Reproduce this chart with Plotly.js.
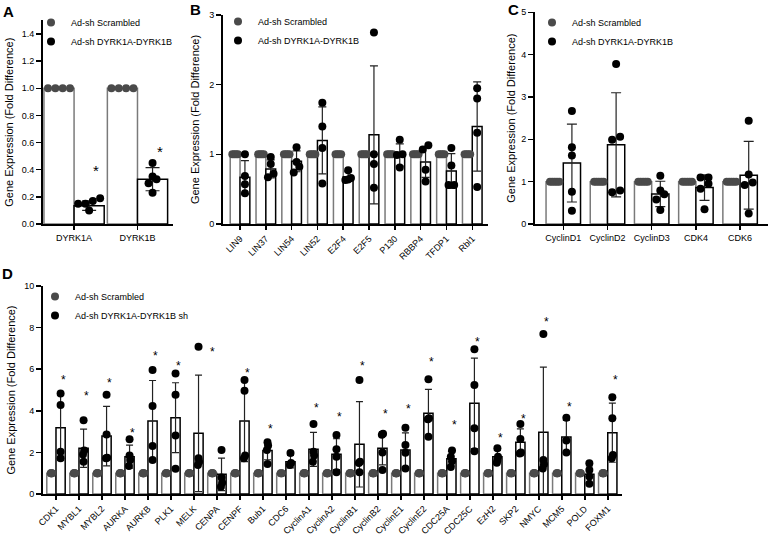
<!DOCTYPE html>
<html><head><meta charset="utf-8">
<script src="https://cdn.plot.ly/plotly-3.0.1.min.js"></script>
<style>html,body{margin:0;padding:0;background:#fff}#chart{width:768px;height:538px}</style>
</head><body><div id="chart"></div>
<script>
// ---------------- DATA ----------------
const legScr = 'Ad-sh Scrambled';
const legSh = 'Ad-sh DYRK1A-DYRK1B';
const legShD = 'Ad-sh DYRK1A-DYRK1B sh';

// Panel A
const aCats = ['DYRK1A', 'DYRK1B'];
const aScr = [[1, 1, 1, 1], [1, 1, 1, 1]];
const aSh = [[0.17, 0.19, 0.15, 0.15, 0.10], [0.35, 0.45, 0.30, 0.23, 0.33]];
const aShMean = [0.135, 0.33];
const aShSD = [0.035, 0.085];
const aStar = [0.42, 0.56];

// Panel B
const bCats = ['LIN9', 'LIN37', 'LIN54', 'LIN52', 'E2F4', 'E2F5', 'P130', 'RBBP4', 'TFDP1', 'Rbl1'];
const bScr = [[1,1,1,1],[1,1,1,1],[1,1,1,1],[1,1,1,1],[1,1,1,1],[1,1,1,1],[1,1,1,1],[1,1,1,1],[1,1,1,1],[1,1,1,1]];
const bSh = [
  [1.00, 0.69, 0.57, 0.44],
  [0.96, 0.86, 0.72, 0.67],
  [1.10, 0.89, 0.82, 0.74],
  [1.74, 1.40, 1.09, 0.58],
  [0.77, 0.66, 0.64, 0.63],
  [2.75, 1.00, 0.86, 0.52],
  [1.21, 1.00, 0.99, 0.81],
  [1.13, 1.07, 0.78, 0.61],
  [1.09, 0.84, 0.56, 0.56],
  [1.95, 1.80, 1.31, 0.53]
];
const bShMean = [0.67, 0.79, 0.90, 1.20, 0.68, 1.28, 0.99, 0.89, 0.76, 1.40];
const bShSD = [0.24, 0.13, 0.15, 0.48, 0.07, 0.99, 0.16, 0.22, 0.25, 0.64];
const bStar = [null, null, null, null, null, null, null, null, null, null];

// Panel C
const cCats = ['CyclinD1', 'CyclinD2', 'CyclinD3', 'CDK4', 'CDK6'];
const cScr = [[1,1,1,1,1],[1,1,1,1,1],[1,1,1,1,1],[1,1,1,1,1],[1,1,1,1,1]];
const cSh = [
  [2.67, 1.81, 1.62, 0.76, 0.31],
  [3.78, 2.06, 1.99, 0.79, 0.75],
  [1.14, 0.79, 0.70, 0.58, 0.33],
  [1.10, 1.10, 0.95, 0.83, 0.35],
  [2.44, 1.17, 0.98, 0.92, 0.25]
];
const cShMean = [1.44, 1.87, 0.71, 0.86, 1.15];
const cShSD = [0.92, 1.23, 0.30, 0.30, 0.80];
const cStar = [null, null, null, null, null];

// Panel D
const dCats = ['CDK1', 'MYBL1', 'MYBL2', 'AURKA', 'AURKB', 'PLK1', 'MELK', 'CENPA', 'CENPF', 'Bub1',
  'CDC6', 'CyclinA1', 'CyclinA2', 'CyclinB1', 'CyclinB2', 'CyclinE1', 'CyclinE2', 'CDC25A', 'CDC25C',
  'EzH2', 'SKP2', 'NMYC', 'MCM5', 'POLD', 'FOXM1'];
const dScr = [[1,1,1,1],[1,1,1,1],[1,1,1,1],[1,1,1,1],[1,1,1,1],[1,1,1,1],[1,1,1,1],[1,1,1,1],[1,1,1,1],[1,1,1,1],
  [1,1,1],[1,1,1,1],[1,1,1,1],[1,1,1,1],[1,1,1,1],[1,1,1,1],[1,1,1,1],[1,1,1,1],[1,1,1,1],
  [1,1,1,1],[1,1,1,1],[1,1,1,1],[1,1,1],[1,1,1,1],[1,1,1,1]];
const dSh = [
  [4.84, 4.28, 2.04, 1.72],
  [3.55, 2.10, 1.90, 1.55],
  [4.78, 2.87, 1.75, 1.72],
  [2.63, 1.85, 1.64, 1.35],
  [5.96, 4.23, 2.31, 1.64],
  [5.80, 4.78, 2.81, 1.22],
  [7.08, 1.72, 1.56, 1.40],
  [2.12, 0.80, 0.55, 0.35],
  [5.48, 4.97, 1.85, 1.72],
  [2.49, 2.33, 2.12, 1.45],
  [1.97, 1.50, 1.40],
  [3.37, 2.04, 1.85, 1.56],
  [2.84, 2.15, 1.80, 1.05],
  [5.48, 1.55, 1.50, 1.05],
  [2.90, 2.85, 2.00, 1.16],
  [3.19, 2.36, 1.99, 1.23],
  [5.52, 3.65, 3.60, 2.76],
  [2.10, 1.80, 1.58, 1.30],
  [6.96, 5.24, 3.16, 2.06],
  [2.20, 1.80, 1.64, 1.51],
  [3.37, 2.65, 2.00, 1.95],
  [7.69, 1.64, 1.43, 1.23],
  [3.67, 2.57, 2.00],
  [1.48, 1.16, 0.84, 0.50],
  [4.65, 3.64, 1.88, 1.72]
];
const dShMean = [3.19, 2.20, 2.79, 1.80, 3.51, 3.67, 2.92, 0.95, 3.51, 2.10, 1.56, 2.15, 1.92, 2.39, 2.20, 2.12, 3.88, 1.70, 4.36, 1.80, 2.49, 2.97, 2.74, 0.95, 2.95];
const dShSD = [1.57, 0.92, 1.43, 0.55, 1.95, 1.68, 2.80, 0.78, 1.95, 0.45, 0.30, 0.82, 0.74, 2.05, 0.80, 0.82, 1.15, 0.35, 2.17, 0.30, 0.64, 3.13, 0.80, 0.40, 1.42];
const dStar = [5.64, 4.87, 5.48, 3.10, 6.77, 6.31, 6.96, null, 5.96, 3.29, null, 4.28, 3.85, 6.31, 4.01, 4.23, 6.49, 3.48, 7.44, 2.84, 3.75, 8.41, 4.33, null, 5.64];

// ---------------- LAYOUT GEOMETRY / STYLE ----------------
const W = 768, H = 538;
const FONT = 'Liberation Sans, Arial, Helvetica, sans-serif';
const MS = 8;
const SCR_COLOR = '#4a4a4a';

const panels = [
  {id: '', letter: 'A', cats: aCats, scr: aScr, sh: aSh, mean: aShMean, sd: aShSD, star: aStar, legTxt: legSh,
   x0: 43, x1: 173, yTop: 20.4, yBot: 224, xr: [-0.49, 1.56], yr: [0, 1.5], dtick: 0.2, fmt: '.1f',
   barW: 0.475, spread: 11, cap: 7, angle: 0, leg: [31, 8], letterPos: [8, 11], starSize: 15, starDx: [7, 7],
   standoff: 6},
  {id: '2', letter: 'B', cats: bCats, scr: bScr, sh: bSh, mean: bShMean, sd: bShSD, star: bStar, legTxt: legSh,
   x0: 223, x1: 488, yTop: 15, yBot: 224, xr: [-0.66, 9.61], yr: [0, 3], dtick: 1, fmt: '',
   barW: 0.38, spread: 2.8, cap: 4, angle: -45, leg: [218, 7], letterPos: [195, 10], starSize: 12,
   standoff: 7},
  {id: '3', letter: 'C', cats: cCats, scr: cScr, sh: cSh, mean: cShMean, sd: cShSD, star: cStar, legTxt: legSh,
   x0: 535, x1: 767.5, yTop: 12.3, yBot: 224, xr: [-0.64, 4.62], yr: [0, 5], dtick: 1, fmt: '',
   barW: 0.39, spread: 4.7, cap: 5, angle: 0, leg: [532, 8], letterPos: [513, 10], starSize: 12,
   standoff: 3},
  {id: '4', letter: 'D', cats: dCats, scr: dScr, sh: dSh, mean: dShMean, sd: dShSD, star: dStar, legTxt: legShD,
   x0: 43, x1: 622, yTop: 286, yBot: 494.1, xr: [-0.565, 24.62], yr: [0, 10], dtick: 2, fmt: '',
   barW: 0.40, spread: 0.6, cap: 3.5, angle: -45, leg: [35, 282], letterPos: [7, 273], starSize: 12,
   starDx: null, standoff: 6}
];

// rows-based scatter placement (GraphPad-like)
function swarm(vals, center, maxOff, kx, ky) {
  const idx = vals.map((v, i) => i).sort((a, b) => vals[a] - vals[b]);
  const xs = new Array(vals.length);
  let i = 0;
  while (i < idx.length) {
    const row = [idx[i]];
    let j = i + 1;
    while (j < idx.length && (vals[idx[j]] - vals[idx[i]]) * ky < MS * 0.8) { row.push(idx[j]); j++; }
    const n = row.length;
    const step = n > 1 ? Math.min(MS, 2 * maxOff / (n - 1)) : 0;
    row.forEach((k, r) => { xs[k] = center + ((r - (n - 1) / 2) * step) / kx; });
    i = j;
  }
  return xs;
}

const traces = [];
const layout = {
  width: W, height: H, margin: {l: 0, r: 0, t: 0, b: 0},
  paper_bgcolor: '#fff', plot_bgcolor: 'rgba(0,0,0,0)',
  barmode: 'overlay', showlegend: true,
  font: {family: FONT, size: 9, color: '#000'},
  annotations: []
};

panels.forEach((p, pi) => {
  const xa = 'x' + p.id, ya = 'y' + p.id;
  const legKey = 'legend' + p.id;
  const kx = (p.x1 - p.x0) / (p.xr[1] - p.xr[0]);
  const ky = (p.yBot - p.yTop) / (p.yr[1] - p.yr[0]);
  const idx = p.cats.map((c, i) => i);
  const scrMean = p.scr.map(a => a.reduce((s, v) => s + v, 0) / a.length);

  traces.push({type: 'bar', xaxis: xa, yaxis: ya, x: idx.map(i => i - p.barW / 2), y: scrMean,
    width: p.barW, marker: {color: '#fff', line: {color: '#7a7a7a', width: 1.5}},
    showlegend: false, hoverinfo: 'skip'});
  traces.push({type: 'bar', xaxis: xa, yaxis: ya, x: idx.map(i => i + p.barW / 2), y: p.mean,
    width: p.barW, marker: {color: '#fff', line: {color: '#000', width: 1.5}},
    error_y: {type: 'data', array: p.sd, visible: true, color: '#222', thickness: 1.2, width: p.cap},
    showlegend: false, hoverinfo: 'skip'});

  const maxOff = p.spread;
  const sx = [], sy = [], hx = [], hy = [];
  idx.forEach(i => {
    const xs1 = swarm(p.scr[i], i - p.barW / 2, maxOff, kx, ky);
    p.scr[i].forEach((v, k) => { sx.push(xs1[k]); sy.push(v); });
    const xs2 = swarm(p.sh[i], i + p.barW / 2, maxOff, kx, ky);
    p.sh[i].forEach((v, k) => { hx.push(xs2[k]); hy.push(v); });
  });
  traces.push({type: 'scatter', mode: 'markers', xaxis: xa, yaxis: ya, x: sx, y: sy, name: legScr,
    legend: legKey, marker: {size: MS, color: SCR_COLOR}, hoverinfo: 'y'});
  traces.push({type: 'scatter', mode: 'markers', xaxis: xa, yaxis: ya, x: hx, y: hy, name: p.legTxt,
    legend: legKey, marker: {size: MS, color: '#000'}, hoverinfo: 'y'});

  const xdom = [p.x0 / W, p.x1 / W];
  const ydom = [(H - p.yBot) / H, (H - p.yTop) / H];
  const axBase = {showline: true, linecolor: '#000', linewidth: 2, ticks: 'outside', tickcolor: '#000',
    tickwidth: 1.5, showgrid: false, zeroline: false, fixedrange: true,
    tickfont: {family: FONT, size: 9, color: '#000'}};
  layout['xaxis' + p.id] = Object.assign({}, axBase, {
    domain: xdom, anchor: ya, range: p.xr, tickmode: 'array', tickvals: idx, ticktext: p.cats,
    ticklen: 4, tickangle: p.angle});
  layout['yaxis' + p.id] = Object.assign({}, axBase, {
    domain: ydom, anchor: xa, range: p.yr, dtick: p.dtick, tick0: 0, tickformat: p.fmt, ticklen: 5,
    title: {text: 'Gene Expression (Fold Difference)', font: {family: FONT, size: 11, color: '#000'}, standoff: p.standoff}});
  layout[legKey] = {x: p.leg[0] / W, y: 1 - p.leg[1] / H, xanchor: 'left', yanchor: 'top',
    bgcolor: 'rgba(0,0,0,0)', borderwidth: 0, font: {family: FONT, size: 9, color: '#000'},
    itemwidth: 30, tracegroupgap: 0};

  p.star.forEach((s, i) => {
    if (s === null) return;
    let dx = p.starDx ? p.starDx[i] : 3;
    if (p.cats[i] === 'MELK') dx = 14;
    layout.annotations.push({xref: xa, yref: ya, x: i + p.barW / 2, y: s, text: '*', showarrow: false,
      xanchor: 'center', yanchor: 'middle', xshift: dx, yshift: -0.25 * p.starSize,
      font: {family: FONT, size: p.starSize, color: '#000'}});
  });
  layout.annotations.push({xref: 'paper', yref: 'paper', x: p.letterPos[0] / W, y: 1 - p.letterPos[1] / H,
    xanchor: 'center', yanchor: 'middle', text: '<b>' + p.letter + '</b>', showarrow: false,
    font: {family: FONT, size: 15, color: '#000'}});
});

Plotly.newPlot('chart', traces, layout, {displayModeBar: false, staticPlot: true});
</script>
</body></html>
